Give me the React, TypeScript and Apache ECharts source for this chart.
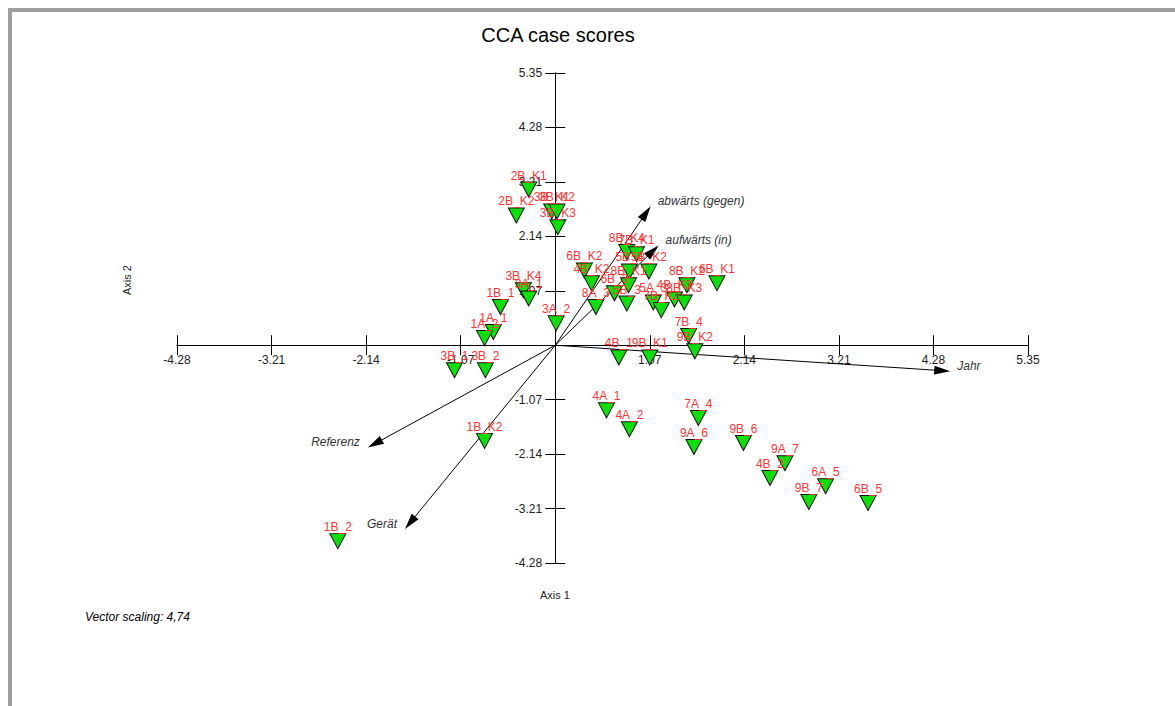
import React, { useEffect, useRef } from "react";
import * as echarts from "echarts";

// Case scores on CCA axes 1 and 2
const caseNames = [
  "2B_K1", "2B_K2", "3B_K1", "3B_K2", "3B_K3", "3B_K4", "3A_1", "1B_1", "1A_1", "1A_2",
  "3A_2", "3B_1", "3B_2", "1B_K2", "1B_2", "8B_K4", "7B_K1", "6B_K2", "4B_K2", "5B_4",
  "5B_K2", "8B_K1", "6B_3", "5B_3", "8A_3", "5A_3", "7B_K2", "4B_K3", "8B_K3", "8B_K2",
  "6B_K1", "7B_4", "9B_K2", "4B_1", "9B_K1", "4A_1", "4A_2", "7A_4", "9A_6", "9B_6",
  "9A_7", "4B_2", "6A_5", "9B_7", "6B_5",
];
const axis1Scores = [
  -0.30, -0.44, -0.04, 0.02, 0.03, -0.36, -0.30, -0.62, -0.70, -0.80,
  0.01, -1.14, -0.79, -0.80, -2.46, 0.81, 0.92, 0.33, 0.41, 0.84,
  1.06, 0.83, 0.67, 0.81, 0.46, 1.11, 1.20, 1.35, 1.46, 1.49,
  1.83, 1.51, 1.58, 0.72, 1.07, 0.58, 0.84, 1.62, 1.57, 2.13,
  2.60, 2.43, 3.06, 2.87, 3.54,
];
const axis2Scores = [
  3.06, 2.55, 2.63, 2.63, 2.32, 1.08, 0.92, 0.75, 0.26, 0.14,
  0.43, -0.49, -0.49, -1.88, -3.85, 1.83, 1.79, 1.47, 1.22, 1.45,
  1.45, 1.18, 1.02, 0.82, 0.75, 0.84, 0.69, 0.90, 0.84, 1.18,
  1.22, 0.18, -0.12, -0.24, -0.24, -1.28, -1.65, -1.43, -2.00, -1.92,
  -2.32, -2.61, -2.77, -3.08, -3.10,
];

// Environmental vectors (already multiplied by the vector scaling)
const vectorNames = ["Jahr", "abwärts (gegen)", "aufwärts (in)", "Referenz", "Gerät"];
const vectorAxis1 = [4.47, 1.08, 1.17, -2.12, -1.70];
const vectorAxis2 = [-0.51, 2.73, 1.96, -2.01, -3.61];

// Axis scale
const axisMin = -4.28;
const axisMax = 5.35;
const axisStep = 1.07;

const FONT = 'Arial, "Liberation Sans", sans-serif';

// Plot box in pixels
const GRID_LEFT = 177;
const GRID_RIGHT = 147;
const GRID_TOP = 73;
const GRID_BOTTOM = 143;
const WIDTH = 1175;
const HEIGHT = 706;

const tickLabel = (v: number) => (Math.abs(v) < 1e-6 ? "" : v.toFixed(2));

export default function App() {
  const ref = useRef<HTMLDivElement>(null);

  useEffect(() => {
    if (!ref.current) return;
    const chart = echarts.init(ref.current, undefined, { renderer: "svg" });

    // Axes cross at the origin: shift them from the box edges to zero
    const plotW = WIDTH - GRID_LEFT - GRID_RIGHT;
    const plotH = HEIGHT - GRID_TOP - GRID_BOTTOM;
    const span = axisMax - axisMin;
    const xAxisOffset = -(plotH * (0 - axisMin)) / span; // from bottom edge up to y = 0
    const yAxisOffset = -(plotW * (0 - axisMin)) / span; // from left edge right to x = 0

    const base = {
      type: "value" as const,
      min: axisMin,
      max: axisMax,
      interval: axisStep,
      splitLine: { show: false },
    };

    const lineStyle = { color: "#000", width: 1 };

    const option: any = {
      animation: false,
      backgroundColor: "#fff",
      grid: {
        left: GRID_LEFT,
        right: GRID_RIGHT,
        top: GRID_TOP,
        bottom: GRID_BOTTOM,
        containLabel: false,
        outerBoundsMode: "none",
      },
      xAxis: [
        {
          ...base,
          position: "bottom",
          offset: xAxisOffset,
          axisLine: { show: true, onZero: false, lineStyle },
          axisTick: { show: true, length: 10, lineStyle },
          axisLabel: {
            formatter: tickLabel,
            margin: 9,
            fontSize: 12,
            color: "#222",
            fontFamily: FONT,
          },
        },
        {
          ...base,
          position: "bottom",
          offset: xAxisOffset,
          axisLine: { show: true, onZero: false, lineStyle },
          axisTick: { show: true, inside: true, length: 10, lineStyle },
          axisLabel: { show: false },
        },
      ],
      yAxis: [
        {
          ...base,
          position: "left",
          offset: yAxisOffset,
          axisLine: { show: true, onZero: false, lineStyle },
          axisTick: { show: true, length: 10, lineStyle },
          axisLabel: {
            formatter: tickLabel,
            margin: 13,
            fontSize: 12,
            color: "#222",
            fontFamily: FONT,
          },
        },
        {
          ...base,
          position: "left",
          offset: yAxisOffset,
          axisLine: { show: true, onZero: false, lineStyle },
          axisTick: { show: true, inside: true, length: 10, lineStyle },
          axisLabel: { show: false },
        },
      ],
      graphic: [
        { type: "rect", shape: { x: 8, y: 8, width: 1167, height: 4 }, style: { fill: "#9e9e9e" }, z: 100 },
        { type: "rect", shape: { x: 8, y: 8, width: 4, height: 698 }, style: { fill: "#9e9e9e" }, z: 100 },
        {
          type: "text",
          x: 558,
          y: 35,
          style: {
            text: "CCA case scores",
            fill: "#000",
            fontSize: 20,
            fontFamily: FONT,
            align: "center",
            verticalAlign: "middle",
          },
        },
        {
          type: "text",
          x: 555,
          y: 595,
          style: {
            text: "Axis 1",
            fill: "#222",
            fontSize: 11,
            fontFamily: FONT,
            align: "center",
            verticalAlign: "middle",
          },
        },
        {
          type: "text",
          x: 127,
          y: 280,
          rotation: Math.PI / 2,
          style: {
            text: "Axis 2",
            fill: "#222",
            fontSize: 11,
            fontFamily: FONT,
            align: "center",
            verticalAlign: "middle",
          },
        },
        {
          type: "text",
          x: 85,
          y: 617,
          style: {
            text: "Vector scaling: 4,74",
            fill: "#000",
            fontSize: 12,
            fontStyle: "italic",
            fontFamily: FONT,
            align: "left",
            verticalAlign: "middle",
          },
        },
      ],
      series: [
        {
          type: "custom",
          xAxisIndex: 0,
          yAxisIndex: 0,
          z: 3,
          data: vectorAxis1.map((x, i) => [x, vectorAxis2[i]]),
          encode: { x: 0, y: 1 },
          renderItem: (params: any, api: any) => {
            const i = params.dataIndex;
            const o = api.coord([0, 0]);
            const t = api.coord([api.value(0), api.value(1)]);
            const dx = t[0] - o[0];
            const dy = t[1] - o[1];
            const len = Math.hypot(dx, dy) || 1;
            const ux = dx / len;
            const uy = dy / len;
            const headLen = 16;
            const headHalf = 4.5;
            const bx = t[0] - ux * headLen;
            const by = t[1] - uy * headLen;
            const px = -uy;
            const py = ux;
            const toRight = dx >= 0;
            return {
              type: "group",
              children: [
                {
                  type: "line",
                  shape: { x1: o[0], y1: o[1], x2: bx + ux * 2, y2: by + uy * 2 },
                  style: { stroke: "#000", lineWidth: 1 },
                },
                {
                  type: "polygon",
                  shape: {
                    points: [
                      [t[0], t[1]],
                      [bx + px * headHalf, by + py * headHalf],
                      [bx - px * headHalf, by - py * headHalf],
                    ],
                  },
                  style: { fill: "#000" },
                },
                {
                  type: "text",
                  x: t[0] + (toRight ? 7 : -8),
                  y: t[1] - 5,
                  style: {
                    text: vectorNames[i],
                    fill: "#333",
                    fontSize: 12,
                    fontStyle: "italic",
                    fontFamily: FONT,
                    align: toRight ? "left" : "right",
                    verticalAlign: "middle",
                  },
                },
              ],
            };
          },
        },
        {
          type: "scatter",
          xAxisIndex: 0,
          yAxisIndex: 0,
          z: 4,
          symbol: "triangle",
          symbolRotate: 180,
          symbolSize: [16, 15],
          itemStyle: { color: "#0be00b", borderColor: "#111", borderWidth: 1, opacity: 1 },
          label: {
            show: true,
            position: "top",
            distance: 0,
            formatter: "{b}",
            color: "#ff3535",
            fontSize: 12,
            fontFamily: FONT,
          },
          emphasis: { disabled: true },
          data: caseNames.map((name, i) => ({ name, value: [axis1Scores[i], axis2Scores[i]] })),
        },
      ],
    };

    chart.setOption(option);
    return () => chart.dispose();
  }, []);

  return (
    <div
      ref={ref}
      style={{ position: "fixed", left: 0, top: 0, width: WIDTH, height: HEIGHT, background: "#fff" }}
    />
  );
}
